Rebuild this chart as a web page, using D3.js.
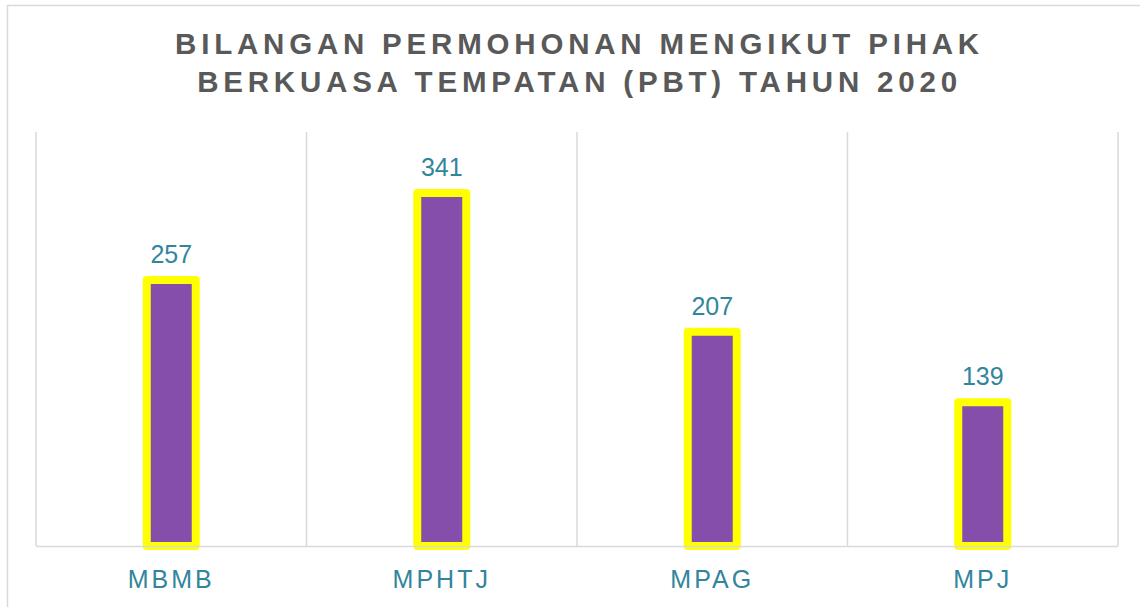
<!DOCTYPE html>
<html>
<head>
<meta charset="utf-8">
<script src="https://cdn.jsdelivr.net/npm/d3@7"></script>
<style>
  body { margin: 0; background: #fff; }
  text { font-family: "Liberation Sans", Arial, sans-serif; }
</style>
</head>
<body>
<div id="chart"></div>
<script>
// chart data
const categories = ["MBMB", "MPHTJ", "MPAG", "MPJ"];
const values = [257, 341, 207, 139];
const titleLines = ["BILANGAN PERMOHONAN MENGIKUT PIHAK", "BERKUASA TEMPATAN (PBT) TAHUN 2020"];

const width = 1140, height = 607;
const margin = { top: 132, left: 36, right: 22, bottom: 61 };
const plotW = width - margin.left - margin.right;
const plotH = height - margin.top - margin.bottom;

const svg = d3.select("#chart").append("svg")
  .attr("width", width)
  .attr("height", height);

// outer chart border
svg.append("rect")
  .attr("x", 7.5).attr("y", 5.5)
  .attr("width", 1160).attr("height", 640)
  .attr("fill", "none")
  .attr("stroke", "#d9d9d9")
  .attr("stroke-width", 1.5);

// title (letter-spacing leaves a trailing gap, so shift by half of it)
const titleX = margin.left + plotW / 2 + 2.5;
svg.append("text")
  .attr("x", titleX)
  .attr("y", 54)
  .attr("text-anchor", "middle")
  .style("font-size", "29.5px")
  .style("font-weight", "bold")
  .style("letter-spacing", "4.8px")
  .style("fill", "#595959")
  .selectAll("tspan")
  .data(titleLines)
  .join("tspan")
  .attr("x", titleX)
  .attr("dy", (d, i) => i === 0 ? 0 : 37.5)
  .text(d => d);

const g = svg.append("g")
  .attr("transform", `translate(${margin.left},${margin.top})`);

const x = d3.scaleBand()
  .domain(categories)
  .range([0, plotW]);

const y = d3.scaleLinear()
  .domain([0, 400])
  .range([plotH, 0]);

// vertical gridlines between categories
const edges = categories.map(c => x(c)).concat([plotW]);
g.selectAll(".grid")
  .data(edges)
  .join("line")
  .attr("class", "grid")
  .attr("x1", d => d).attr("x2", d => d)
  .attr("y1", 0).attr("y2", plotH)
  .attr("stroke", "#d9d9d9")
  .attr("stroke-width", 1.5);

// bars
const barW = 49;
g.selectAll(".bar")
  .data(values)
  .join("rect")
  .attr("class", "bar")
  .attr("x", (d, i) => x(categories[i]) + x.bandwidth() / 2 - barW / 2)
  .attr("y", d => y(d))
  .attr("width", barW)
  .attr("height", d => plotH - y(d))
  .attr("fill", "#864eab")
  .attr("stroke", "#ffff00")
  .attr("stroke-width", 8)
  .attr("stroke-linejoin", "round");

// x axis line
g.append("line")
  .attr("x1", 0).attr("x2", plotW)
  .attr("y1", plotH + 0.5).attr("y2", plotH + 0.5)
  .attr("stroke", "#d9d9d9")
  .attr("stroke-width", 1.5);

// value labels
g.selectAll(".val")
  .data(values)
  .join("text")
  .attr("class", "val")
  .attr("x", (d, i) => x(categories[i]) + x.bandwidth() / 2)
  .attr("y", d => y(d) - 17)
  .attr("text-anchor", "middle")
  .style("font-size", "25px")
  .style("fill", "#31859c")
  .text(d => d);

// category labels
g.selectAll(".cat")
  .data(categories)
  .join("text")
  .attr("class", "cat")
  .attr("x", d => x(d) + x.bandwidth() / 2)
  .attr("y", plotH + 42)
  .attr("text-anchor", "middle")
  .style("font-size", "25px")
  .style("letter-spacing", "3px")
  .style("fill", "#31859c")
  .text(d => d);
</script>
</body>
</html>
